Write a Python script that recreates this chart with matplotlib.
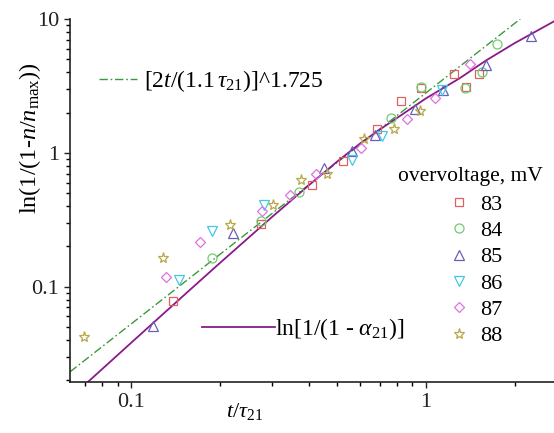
import numpy as np
import matplotlib
matplotlib.use("Agg")
import matplotlib.pyplot as plt
from matplotlib.ticker import LogLocator, NullFormatter, FixedLocator, FixedFormatter

plt.rcParams['font.family'] = ['Liberation Serif', 'DejaVu Serif']
plt.rcParams['mathtext.fontset'] = 'custom'
plt.rcParams['mathtext.rm'] = 'Liberation Serif'
plt.rcParams['mathtext.it'] = 'Liberation Serif:italic'

# measured points, t/tau21 vs ln(1/(1-n/nmax))
t_83 = [0.139, 0.275, 0.410, 0.523, 0.685, 0.823, 0.964, 1.241, 1.370, 1.517]
y_83 = [0.0786, 0.294, 0.573, 0.865, 1.51, 2.43, 3.04, 3.85, 3.12, 3.85]

t_84 = [0.188, 0.275, 0.372, 0.761, 0.964, 1.359, 1.549, 1.741]
y_84 = [0.164, 0.312, 0.507, 1.83, 3.10, 3.03, 4.01, 6.46]

t_85 = [0.119, 0.222, 0.452, 0.561, 0.673, 0.920, 1.147, 1.598, 2.272]
y_85 = [0.0505, 0.252, 0.773, 1.03, 1.35, 2.13, 2.97, 4.52, 7.45]

t_86 = [0.146, 0.188, 0.283, 0.561, 0.709, 1.133]
y_86 = [0.113, 0.259, 0.411, 0.891, 1.33, 2.97]

t_87 = [0.1315, 0.172, 0.279, 0.345, 0.425, 0.603, 0.866, 1.07, 1.413]
y_87 = [0.119, 0.2145, 0.366, 0.488, 0.697, 1.09, 1.805, 2.55, 4.65]

t_88 = [0.0693, 0.128, 0.216, 0.303, 0.377, 0.461, 0.617, 0.782, 0.957]
y_88 = [0.042, 0.163, 0.287, 0.406, 0.631, 0.70, 1.26, 1.51, 2.07]

# power law fit line (end points)
t_fit = [0.0621, 2.09]
y_fit = [0.0231, 10.0]

# ln[1/(1-alpha21)] curve
t_model = [0.0714, 0.1, 0.15, 0.2, 0.3, 0.4, 0.5, 0.6, 0.7, 0.85, 1.0, 1.3, 1.6, 2.0, 2.72]
y_model = [0.0194, 0.038, 0.085, 0.15, 0.33, 0.57, 0.86, 1.18, 1.5, 2.0, 2.55, 3.6, 4.9, 6.6, 9.6]

series_labels = ['83', '84', '85', '86', '87', '88']
series_t = [t_83, t_84, t_85, t_86, t_87, t_88]
series_y = [y_83, y_84, y_85, y_86, y_87, y_88]
markers = ['s', 'o', '^', 'v', 'D', '*']
colors = ['#e06060', '#70cc70', '#6a5fb8', '#40c8e8', '#e070e0', '#b8a848']
msizes = [6, 6.5, 7, 7, 5.5, 8]

fig = plt.figure(figsize=(5.54, 4.33), dpi=100)
ax = fig.add_axes([70/554, 51/433, 484/554, 363/433])

fit_line, = ax.plot(t_fit, y_fit, color='#3a9a3a', lw=1.0, ls=(0, (6, 2, 1.2, 2)))
model_line, = ax.plot(t_model, y_model, color='#8a1a8a', lw=1.3)

handles = []
for tt, yy, m, c, ms, lab in zip(series_t, series_y, markers, colors, msizes, series_labels):
    h, = ax.plot(tt, yy, ls='none', marker=m, ms=ms, mfc='none', mec=c, mew=0.9, label=lab)
    handles.append(h)

ax.set_xscale('log')
ax.set_yscale('log')
ax.set_xlim(0.0621, 2.72)
ax.set_ylim(0.0194, 10)

ax.xaxis.set_major_locator(FixedLocator([0.1, 1]))
ax.xaxis.set_major_formatter(FixedFormatter(['0.1', '1']))
ax.yaxis.set_major_locator(FixedLocator([0.1, 1, 10]))
ax.yaxis.set_major_formatter(FixedFormatter(['0.1', '1', '10']))
ax.xaxis.set_minor_locator(LogLocator(base=10, subs=np.arange(2, 10)))
ax.yaxis.set_minor_locator(LogLocator(base=10, subs=np.arange(2, 10)))
ax.xaxis.set_minor_formatter(NullFormatter())
ax.yaxis.set_minor_formatter(NullFormatter())
ax.tick_params(which='major', direction='out', length=4.5, width=1, labelsize=16, colors='#222222')
ax.tick_params(which='minor', direction='out', length=2.8, width=1)

for s in ['top', 'right']:
    ax.spines[s].set_visible(False)
for s in ['left', 'bottom']:
    ax.spines[s].set_linewidth(1.2)
    ax.spines[s].set_color('#222222')

fig.text(245/554, 1 - 412/433, r'$t/\tau_{21}$', fontsize=16, ha='center', va='center')
fig.text(30/554, 1 - 138/433, r'ln(1/(1-$n$/$n_{\mathrm{max}}$))', fontsize=17.5,
         rotation=90, ha='center', va='center')

# marker legend, title placed as separate text
fig.text(470/554, 1 - 176/433, 'overvoltage, mV', fontsize=15.5, ha='center', va='center')
leg = ax.legend(handles=handles, frameon=False, fontsize=16,
                loc='upper left', bbox_to_anchor=(437/554, 1 - 183/433),
                bbox_transform=fig.transFigure,
                handlelength=1.0, handletextpad=0.45, labelspacing=0.26, borderpad=0)
ax.add_artist(leg)

leg2 = ax.legend(handles=[fit_line], labels=[r'[2$t$/(1.1$\,\tau_{21}$)]^1.725'], frameon=False,
                 fontsize=17, loc='center left', bbox_to_anchor=(87/554, 1 - 81/433),
                 bbox_transform=fig.transFigure,
                 handlelength=1.6, handletextpad=0.3, borderpad=0)
ax.add_artist(leg2)

leg3 = ax.legend(handles=[model_line], labels=[r'ln[1/(1 - $\alpha_{21}$)]'], frameon=False,
                 fontsize=17, loc='center left', bbox_to_anchor=(190/554, 1 - 329/433),
                 bbox_transform=fig.transFigure,
                 handlelength=3.1, handletextpad=0.0, borderpad=0)

fig.savefig('out.png', dpi=100)
